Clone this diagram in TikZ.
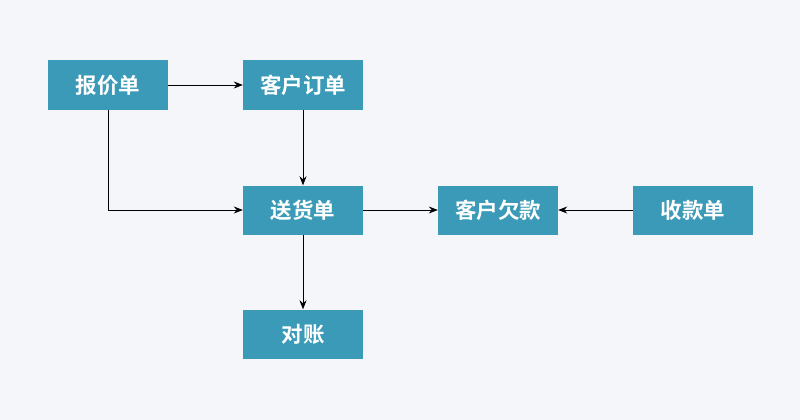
\documentclass[tikz,border=0pt]{standalone}
\usepackage{fontspec}
\newfontfamily\cjk{Noto Sans CJK SC}[BoldFont={Noto Sans CJK SC Bold}]
\usetikzlibrary{arrows.meta}
\definecolor{boxc}{HTML}{3A9AB8}
\definecolor{bgc}{HTML}{F5F6FA}
\begin{document}
\begin{tikzpicture}[x=1pt,y=-1pt,
  box/.style={fill=boxc,minimum width=120pt,minimum height=49pt,inner sep=0pt,text=white,font=\cjk\bfseries\fontsize{21.5}{24}\selectfont},
  conn/.style={draw=black,line width=0.8pt,-{Stealth[length=9pt,width=7pt]}}]
\fill[bgc] (0,0) rectangle (800,420);
\useasboundingbox (0,0) rectangle (800,420);
\node[box] (bj) at (108,85) {报价单};
\node[box] (dd) at (303,85) {客户订单};
\node[box] (sh) at (303,210) {送货单};
\node[box] (qk) at (498,210) {客户欠款};
\node[box] (sk) at (693,210) {收款单};
\node[box] (dz) at (303,334) {对账};
\draw[conn] (bj) -- (dd);
\draw[conn] (dd) -- (sh);
\draw[conn] (bj.south) |- (sh.west);
\draw[conn] (sh) -- (qk);
\draw[conn] (sk) -- (qk);
\draw[conn] (sh) -- (dz);
\end{tikzpicture}
\end{document}
